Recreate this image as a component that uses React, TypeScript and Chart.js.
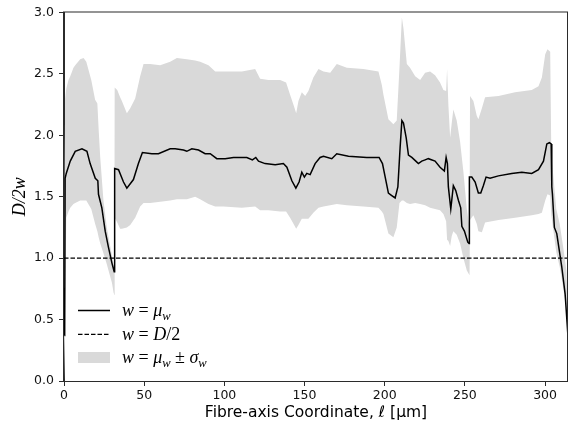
import React, { useEffect, useRef } from 'react';
import { Chart, registerables } from 'chart.js';

Chart.register(...registerables);

// ---- data ----
const meanX = [
  0.3, 0.4, 0.45, 0.7, 1.4, 3.9, 7.0, 11.2, 14.3, 16.3, 19.5, 21.1, 21.5, 23.6, 25.7, 27.7, 29.9, 31.3, 31.5, 31.55, 31.7,
  34.0, 37.1, 39.2, 43.3, 46.4, 48.9, 54.8, 58.9, 66.2, 69.3, 74.5, 76.6, 79.7, 83.9, 88.0, 91.2, 95.3, 100.5, 105.7, 114.0,
  117.5, 119.6, 121.3, 125.4, 131.7, 136.8, 139.0, 142.1, 144.6, 146.6, 148.3, 149.9, 151.4, 153.5, 156.6, 159.7, 161.8, 167.0, 170.1, 177.4,
  188.8, 196.5, 198.6, 202.3, 204.4, 206.5, 208.2, 209.6, 210.7, 211.7, 213.4, 214.8, 216.9, 219.4, 221.0, 223.1, 225.2, 227.2, 231.4, 234.5,
  237.2, 238.3, 239.1, 239.7, 241.2, 241.8, 242.8, 244.3, 246.0, 247.4, 248.1, 249.7, 251.8, 252.6, 252.8, 254.3, 256.4, 258.4, 259.9, 261.5,
  263.2, 265.7, 270.9, 279.2, 285.5, 291.7, 295.9, 299.0, 301.1, 302.7, 303.8, 304.2, 304.6, 305.8, 307.3, 310.4, 312.5, 314.3,
];
const meanY = [
  0.37, 0.76, 0.40, 1.65, 1.69, 1.79, 1.87, 1.89, 1.87, 1.77, 1.65, 1.63, 1.52, 1.41, 1.22, 1.09, 0.96, 0.89, 1.49, 1.10, 1.73,
  1.72, 1.62, 1.57, 1.64, 1.77, 1.86, 1.85, 1.85, 1.89, 1.89, 1.88, 1.87, 1.89, 1.88, 1.85, 1.85, 1.81, 1.81, 1.82, 1.82,
  1.80, 1.82, 1.79, 1.77, 1.76, 1.77, 1.74, 1.63, 1.57, 1.62, 1.70, 1.66, 1.69, 1.68, 1.77, 1.82, 1.83, 1.81, 1.85, 1.83,
  1.82, 1.82, 1.77, 1.53, 1.51, 1.49, 1.58, 1.90, 2.12, 2.10, 1.98, 1.84, 1.82, 1.79, 1.77, 1.79, 1.80, 1.81, 1.79, 1.74,
  1.71, 1.82, 1.77, 1.58, 1.40, 1.47, 1.59, 1.55, 1.47, 1.41, 1.26, 1.22, 1.13, 1.12, 1.66, 1.66, 1.62, 1.53, 1.53, 1.59,
  1.66, 1.65, 1.67, 1.69, 1.70, 1.69, 1.72, 1.79, 1.93, 1.94, 1.93, 1.58, 1.52, 1.25, 1.20, 0.93, 0.71, 0.36,
];

const bandX = [
  0.0, 0.7, 1.4, 2.8, 3.9, 5.9, 7.0, 10.1, 12.2, 13.9, 17.0, 19.4, 20.8, 21.6, 22.6, 24.6, 26.7, 28.8, 29.9, 30.9, 31.4,
  31.6, 33.2, 35.0, 36.1, 39.2, 41.3, 44.4, 47.5, 49.6, 53.7, 60.0, 66.2, 70.4, 76.6, 81.8, 84.9, 90.1, 94.3, 99.4, 110.9,
  119.2, 122.3, 127.5, 134.8, 138.5, 141.0, 143.1, 144.8, 146.2, 148.3, 150.4, 152.4, 155.5, 158.7, 161.8, 166.0, 170.1, 176.4, 186.7, 196.1,
  198.2, 199.2, 202.3, 205.4, 207.5, 209.2, 210.7, 211.7, 213.8, 215.8, 219.0, 222.1, 225.2, 228.3, 231.4, 234.5, 236.6, 238.3, 238.9, 239.7,
  240.8, 241.8, 242.8, 244.9, 247.0, 249.1, 251.2, 252.9, 253.2, 255.3, 257.4, 258.4, 260.6, 262.6, 271.0, 281.3, 291.7, 295.9, 298.0, 300.1,
  301.5, 303.2, 303.9, 307.0, 309.1, 311.2, 313.3, 314.3,
];
const bandUpper = [
  0.75, 2.30, 2.38, 2.45, 2.48, 2.55, 2.57, 2.62, 2.63, 2.60, 2.45, 2.29, 2.26, 2.05, 1.82, 1.47, 1.25, 1.10, 1.02, 0.95, 0.90,
  2.39, 2.37, 2.31, 2.28, 2.18, 2.22, 2.30, 2.48, 2.58, 2.58, 2.57, 2.60, 2.63, 2.62, 2.61, 2.60, 2.57, 2.52, 2.52, 2.52,
  2.54, 2.46, 2.45, 2.45, 2.43, 2.33, 2.25, 2.18, 2.28, 2.35, 2.32, 2.36, 2.47, 2.54, 2.52, 2.51, 2.58, 2.55, 2.54, 2.52,
  2.41, 2.33, 2.13, 2.09, 2.12, 2.55, 2.96, 2.87, 2.58, 2.55, 2.48, 2.45, 2.51, 2.52, 2.49, 2.43, 2.37, 2.36, 2.54, 2.25,
  1.98, 2.10, 2.21, 2.12, 1.95, 1.70, 1.40, 1.25, 2.32, 2.28, 2.16, 2.13, 2.22, 2.31, 2.32, 2.35, 2.37, 2.40, 2.47, 2.66,
  2.70, 2.68, 1.85, 1.40, 1.28, 1.10, 0.90, 0.55,
];
const bandLower = [
  0.00, 0.40, 1.33, 1.38, 1.41, 1.44, 1.45, 1.47, 1.47, 1.47, 1.40, 1.28, 1.22, 1.17, 1.12, 1.04, 0.95, 0.85, 0.80, 0.72, 0.70,
  1.33, 1.29, 1.24, 1.24, 1.25, 1.27, 1.33, 1.42, 1.45, 1.45, 1.46, 1.47, 1.48, 1.48, 1.50, 1.48, 1.44, 1.42, 1.42, 1.41,
  1.42, 1.39, 1.39, 1.38, 1.38, 1.33, 1.28, 1.24, 1.27, 1.32, 1.32, 1.32, 1.37, 1.41, 1.42, 1.43, 1.44, 1.43, 1.42, 1.41,
  1.38, 1.36, 1.20, 1.17, 1.25, 1.45, 1.47, 1.47, 1.45, 1.44, 1.45, 1.44, 1.43, 1.41, 1.40, 1.39, 1.36, 1.30, 1.15, 1.14,
  1.10, 1.18, 1.22, 1.19, 1.12, 1.00, 0.90, 0.86, 1.31, 1.35, 1.28, 1.22, 1.21, 1.29, 1.31, 1.33, 1.35, 1.36, 1.37, 1.47,
  1.52, 1.51, 1.35, 1.05, 0.93, 0.77, 0.58, 0.30,
];

const halfDiameterLevel = 1.0;
const xMin = 0;
const xMax = 314.3;
const yMin = 0;
const yMax = 3.0;
const xStep = 50;
const yStep = 0.5;
const xTitle = 'Fibre-axis Coordinate, \u2113 [\u00b5m]';
const yTitle = 'D/2w';

type Piece = { t: string; it?: boolean; sub?: boolean };
const legendLabels: Piece[][] = [
  [{ t: 'w', it: true }, { t: ' = ' }, { t: '\u03bc', it: true }, { t: 'w', it: true, sub: true }],
  [{ t: 'w', it: true }, { t: ' = ' }, { t: 'D', it: true }, { t: '/2' }],
  [
    { t: 'w', it: true }, { t: ' = ' }, { t: '\u03bc', it: true }, { t: 'w', it: true, sub: true },
    { t: ' \u00b1 ' }, { t: '\u03c3', it: true }, { t: 'w', it: true, sub: true },
  ],
];

const BAND_COLOR = '#d9d9d9';
const AXIS_COLOR = '#2b2b2b';
const MATH_FONT = '"Liberation Serif", "DejaVu Serif", serif';

function drawMath(ctx: CanvasRenderingContext2D, x: number, y: number, parts: Piece[], size: number) {
  let cx = x;
  for (const p of parts) {
    const fs = p.sub ? size * 0.7 : size;
    ctx.font = `${p.it ? 'italic ' : ''}${fs}px ${MATH_FONT}`;
    ctx.textBaseline = 'alphabetic';
    ctx.textAlign = 'left';
    ctx.fillText(p.t, cx, y + (p.sub ? size * 0.2 : 0));
    cx += ctx.measureText(p.t).width;
  }
}

const framePlugin = {
  id: 'frame',
  afterDatasetsDraw(chart: any) {
    const { ctx, chartArea } = chart;
    ctx.save();
    ctx.strokeStyle = AXIS_COLOR;
    ctx.lineWidth = 1;
    ctx.setLineDash([]);
    ctx.strokeRect(chartArea.left - 0.5, chartArea.top - 0.5, chartArea.right - chartArea.left, chartArea.bottom - chartArea.top + 1);
    ctx.restore();
  },
};

const legendPlugin = {
  id: 'mathLegend',
  afterDraw(chart: any) {
    const { ctx, chartArea } = chart;
    const x0 = chartArea.left + 14;
    const x1 = chartArea.left + 46;
    const tx = chartArea.left + 58;
    const rows = [chartArea.bottom - 70.5, chartArea.bottom - 46.7, chartArea.bottom - 23.5];
    ctx.save();
    ctx.strokeStyle = '#000';
    ctx.lineWidth = 1.5;
    ctx.setLineDash([]);
    ctx.beginPath();
    ctx.moveTo(x0, rows[0]);
    ctx.lineTo(x1, rows[0]);
    ctx.stroke();
    ctx.lineWidth = 1.2;
    ctx.setLineDash([4.5, 2]);
    ctx.beginPath();
    ctx.moveTo(x0, rows[1]);
    ctx.lineTo(x1, rows[1]);
    ctx.stroke();
    ctx.setLineDash([]);
    ctx.fillStyle = BAND_COLOR;
    ctx.fillRect(x0, rows[2] - 5.5, x1 - x0, 11);
    ctx.fillStyle = '#000';
    legendLabels.forEach((parts, i) => drawMath(ctx, tx, rows[i] + 5.5, parts, 18));
    ctx.restore();
  },
};

export default function App() {
  const canvasRef = useRef<HTMLCanvasElement | null>(null);

  useEffect(() => {
    const canvas = canvasRef.current;
    if (!canvas) return;
    const meanData = meanX.map((x, i) => ({ x, y: meanY[i] }));
    const upperData = bandX.map((x, i) => ({ x, y: bandUpper[i] }));
    const lowerData = bandX.map((x, i) => ({ x, y: bandLower[i] }));
    const refData = [
      { x: xMin, y: halfDiameterLevel },
      { x: xMax, y: halfDiameterLevel },
    ];
    const tickFont = { family: '"DejaVu Sans", sans-serif', size: 12.5 };

    const chart = new Chart(canvas, {
      type: 'line',
      data: {
        datasets: [
          {
            label: 'mean',
            data: meanData,
            borderColor: '#000',
            borderWidth: 1.5,
            pointRadius: 0,
            fill: false,
            tension: 0,
          },
          {
            label: 'D/2',
            data: refData,
            borderColor: '#000',
            borderWidth: 1.1,
            borderDash: [4.5, 2],
            pointRadius: 0,
            fill: false,
          },
          {
            label: 'upper',
            data: upperData,
            borderColor: 'rgba(0,0,0,0)',
            borderWidth: 0,
            pointRadius: 0,
            fill: false,
          },
          {
            label: 'lower',
            data: lowerData,
            borderColor: 'rgba(0,0,0,0)',
            borderWidth: 0,
            pointRadius: 0,
            backgroundColor: BAND_COLOR,
            fill: '-1',
          },
        ],
      },
      options: {
        responsive: false,
        animation: false,
        events: [],
        layout: { padding: { top: 11, left: 0, right: 0, bottom: 0 } },
        plugins: {
          legend: { display: false },
          tooltip: { enabled: false },
          filler: { drawTime: 'beforeDatasetsDraw' },
        } as any,
        scales: {
          x: {
            type: 'linear',
            min: xMin,
            max: xMax,
            afterFit: (s: any) => {
              s.height = 48;
            },
            ticks: {
              stepSize: xStep,
              includeBounds: false,
              maxRotation: 0,
              autoSkip: false,
              padding: 2,
              color: '#111',
              font: tickFont,
            },
            grid: { drawOnChartArea: false, drawTicks: true, tickLength: 5, color: AXIS_COLOR, tickColor: AXIS_COLOR },
            border: { display: true, color: AXIS_COLOR, width: 1 },
            title: {
              display: true,
              text: xTitle,
              color: '#000',
              font: { family: '"DejaVu Sans", sans-serif', size: 15.5 },
              padding: { top: 0, bottom: 6.5 },
            },
          },
          y: {
            type: 'linear',
            min: yMin,
            max: yMax,
            afterFit: (s: any) => {
              s.width = 64;
            },
            ticks: {
              stepSize: yStep,
              padding: 5,
              color: '#111',
              font: tickFont,
              callback: (v: any) => Number(v).toFixed(1),
            },
            grid: { drawOnChartArea: false, drawTicks: true, tickLength: 5, color: AXIS_COLOR, tickColor: AXIS_COLOR },
            border: { display: true, color: AXIS_COLOR, width: 1 },
            title: {
              display: true,
              text: yTitle,
              color: '#000',
              font: { family: MATH_FONT, size: 18, style: 'italic' },
              padding: { top: 9, bottom: 0 },
            },
          },
        },
      },
      plugins: [framePlugin, legendPlugin],
    } as any);

    return () => chart.destroy();
  }, []);

  return (
    <div style={{ position: 'absolute', left: 0, top: 0, width: 568, height: 429, background: '#fff' }}>
      <canvas ref={canvasRef} width={568} height={429} style={{ display: 'block' }} />
    </div>
  );
}
